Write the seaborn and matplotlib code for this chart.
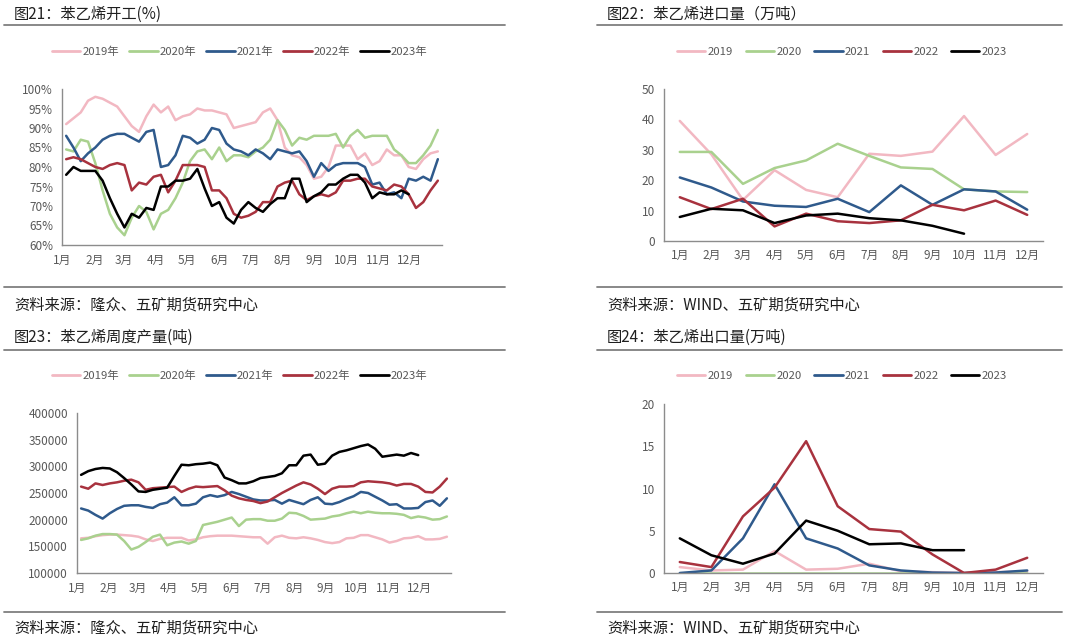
import numpy as np
import pandas as pd
import matplotlib
matplotlib.use("Agg")
import matplotlib.pyplot as plt
import seaborn as sns
from matplotlib.lines import Line2D
from matplotlib.ticker import FixedLocator, FuncFormatter

# ---------------- data ----------------
years = ["2019", "2020", "2021", "2022", "2023"]
colors = ["#F2B8C2", "#A9D18E", "#2F5A8C", "#A8323E", "#000000"]
months = ["1月", "2月", "3月", "4月", "5月", "6月", "7月", "8月", "9月", "10月", "11月", "12月"]
month_start_day = [0, 31, 59, 90, 120, 151, 181, 212, 243, 273, 304, 334]

# Fig 21: styrene operating rate (%), weekly
op_2019 = [91, 92.5, 94, 97, 98, 97.5, 96.5, 95.5, 93, 90.5, 89, 93, 96, 94, 95.5, 92, 93, 93.5, 95, 94.5,
           94.5, 94, 93.5, 90, 90.5, 91, 91.5, 94, 95, 92, 85, 83, 82.5, 80.5, 77, 77.5, 80, 85.5, 85.5, 85.5,
           82, 83.5, 80.5, 81.5, 84.5, 83, 83, 80, 79.5, 82, 83.5, 84]
op_2020 = [84.5, 84, 87, 86.5, 81, 74, 68, 64.5, 62.5, 67, 70, 68.5, 64, 68, 69, 72, 76, 81.5, 84, 84.5,
           82, 85, 81.5, 83, 83, 82.5, 84, 85, 87, 92, 89.5, 85.5, 87.5, 87, 88, 88, 88, 88.5, 85, 88,
           89.5, 87.5, 88, 88, 88, 84.5, 83, 81, 81, 83, 85.5, 89.5]
op_2021 = [88, 85, 81.5, 83.5, 85, 87, 88, 88.5, 88.5, 87.5, 86.5, 89, 89.5, 80, 80.5, 83, 88, 87.5, 86, 87,
           90, 89.5, 86, 84.5, 84, 83, 84.5, 83.5, 82, 84.5, 84, 83.5, 84, 81.5, 77.5, 81, 79, 80.5, 81, 81,
           81, 80, 75.5, 76, 73, 73.5, 72, 77, 76.5, 77.5, 76.5, 82]
op_2022 = [82, 82.5, 82, 81, 80, 79.5, 80.5, 81, 80.5, 74, 76, 75.5, 77.5, 78, 73.5, 76.5, 80.5, 80.5, 80.5, 80,
           74, 74, 72, 68, 67, 67.5, 68.5, 71, 71, 75, 76, 76.5, 73, 71.5, 72.5, 73, 72.5, 73.5, 76.5, 76.5,
           77, 77, 75, 74.5, 74, 75.5, 75, 73, 69.5, 71, 74, 76.5]
op_2023 = [78, 80, 79, 79, 79, 76.5, 72, 68, 64.5, 68, 67, 69.5, 69, 75, 75, 76.5, 76.5, 77, 79.5, 74.5,
           70, 71, 67, 65.5, 69, 71, 69.5, 68.5, 70.5, 72, 72, 77, 77, 71, 72.5, 73.5, 75.5, 75.5, 77, 78,
           78, 76, 72, 73.5, 73, 73, 74, 73]

# Fig 23: styrene weekly output (t)
out_2019 = [165000, 166000, 169000, 171000, 172000, 172000, 171000, 170000, 168000, 163000, 160000, 164000,
            166000, 166000, 166000, 161000, 163000, 167000, 169000, 170000, 170000, 170000, 169000, 168000,
            167000, 167000, 155000, 167000, 170000, 166000, 165000, 167000, 165000, 162000, 158000, 156000,
            158000, 165000, 166000, 171000, 171000, 167000, 163000, 157000, 160000, 165000, 166000, 169000,
            163000, 163000, 164000, 168000]
out_2020 = [162000, 165000, 170000, 173000, 173000, 172000, 160000, 144000, 149000, 158000, 168000, 172000,
            152000, 157000, 159000, 155000, 160000, 190000, 193000, 196000, 200000, 204000, 188000, 200000,
            201000, 201000, 198000, 198000, 202000, 213000, 212000, 207000, 200000, 201000, 202000, 206000,
            208000, 212000, 215000, 212000, 215000, 213000, 212000, 212000, 211000, 209000, 203000, 206000,
            204000, 200000, 201000, 206000]
out_2021 = [221000, 217000, 209000, 202000, 212000, 220000, 226000, 227000, 227000, 224000, 222000, 229000,
            232000, 242000, 227000, 227000, 230000, 242000, 246000, 243000, 246000, 252000, 248000, 243000,
            238000, 236000, 236000, 237000, 230000, 237000, 233000, 229000, 237000, 242000, 230000, 229000,
            233000, 239000, 244000, 252000, 250000, 243000, 236000, 228000, 229000, 221000, 221000, 222000,
            233000, 236000, 226000, 240000]
out_2022 = [262000, 258000, 268000, 265000, 268000, 270000, 273000, 275000, 270000, 256000, 259000, 260000,
            261000, 262000, 252000, 258000, 262000, 261000, 262000, 263000, 255000, 245000, 240000, 237000,
            235000, 231000, 234000, 242000, 250000, 257000, 264000, 270000, 266000, 258000, 248000, 258000,
            262000, 262000, 263000, 270000, 272000, 271000, 270000, 268000, 264000, 267000, 267000, 262000,
            252000, 251000, 262000, 277000]
out_2023 = [284000, 291000, 295000, 297000, 296000, 289000, 278000, 266000, 253000, 252000, 256000, 258000,
            260000, 282000, 303000, 302000, 304000, 305000, 307000, 302000, 279000, 274000, 268000, 268000,
            272000, 278000, 280000, 282000, 287000, 302000, 302000, 320000, 322000, 303000, 305000, 320000,
            327000, 330000, 334000, 338000, 341000, 333000, 318000, 320000, 322000, 320000, 325000, 321000]

# Fig 22: styrene imports (10k t), monthly
imp_2019 = [39.5, 28.5, 13.5, 23.3, 16.8, 14.4, 28.7, 28.0, 29.4, 41.1, 28.3, 35.2]
imp_2020 = [29.3, 29.3, 18.8, 24.0, 26.5, 32.0, 28.0, 24.2, 23.7, 17.0, 16.3, 16.1]
imp_2021 = [20.9, 17.6, 13.0, 11.6, 11.2, 13.9, 9.5, 18.3, 11.9, 17.0, 16.3, 10.3]
imp_2022 = [14.4, 10.5, 13.9, 4.8, 9.0, 6.5, 5.9, 6.8, 11.9, 10.1, 13.3, 8.6]
imp_2023 = [7.9, 10.6, 10.1, 5.9, 8.4, 9.0, 7.5, 6.8, 5.0, 2.4]

# Fig 24: styrene exports (10k t), monthly
exp_2019 = [0.7, 0.3, 0.4, 2.6, 0.4, 0.5, 1.1, 0.2, 0.1, 0.0, 0.1, 0.2]
exp_2020 = [0.0, 0.0, 0.0, 0.0, 0.0, 0.0, 0.0, 0.0, 0.0, 0.0, 0.0, 0.0]
exp_2021 = [0.0, 0.3, 4.1, 10.5, 4.1, 2.9, 0.9, 0.3, 0.05, 0.0, 0.05, 0.3]
exp_2022 = [1.3, 0.7, 6.7, 10.1, 15.6, 7.9, 5.2, 4.9, 2.2, 0.0, 0.4, 1.8]
exp_2023 = [4.1, 2.1, 1.1, 2.3, 6.2, 5.0, 3.4, 3.5, 2.7, 2.7]


def weekly_frame(series, suffix):
    rows = []
    for yr, vals in zip(years, series):
        for i, v in enumerate(vals):
            rows.append({"day": 4 + 7 * i, "value": v, "year": yr + suffix})
    return pd.DataFrame(rows)


def monthly_frame(series):
    rows = []
    for yr, vals in zip(years, series):
        for i, v in enumerate(vals):
            rows.append({"month": i, "value": v, "year": yr})
    return pd.DataFrame(rows)


# ---------------- style ----------------
sns.set_theme(style="white")
plt.rcParams["font.family"] = ["Noto Sans CJK SC", "DejaVu Sans"]
AX_GRAY = "#8C8C8C"
TXT_GRAY = "#595959"

fig = plt.figure(figsize=(10.8, 6.44), dpi=100)
W, H = 1080, 644


def fax(l, t, r, b):
    return fig.add_axes([l / W, 1 - b / H, (r - l) / W, (b - t) / H])


def hline(y, x0, x1):
    fig.add_artist(Line2D([x0 / W, x1 / W], [1 - y / H, 1 - y / H], color="#7F7F7F", lw=1.3))


def style_axes(ax):
    for s in ["top", "right"]:
        ax.spines[s].set_visible(False)
    for s in ["left", "bottom"]:
        ax.spines[s].set_color(AX_GRAY)
        ax.spines[s].set_linewidth(1.0)
    ax.tick_params(axis="both", colors=AX_GRAY, labelcolor=TXT_GRAY, labelsize=8.5,
                   length=3, width=0.8, direction="out")
    ax.set_xlabel("")
    ax.set_ylabel("")
    ax.grid(False)


def add_legend(ax, labels, x, y, colspace):
    handles = [Line2D([0], [0], color=c, lw=2) for c in colors]
    fig.legend(handles, labels, loc="center left", bbox_to_anchor=(x / W, 1 - y / H), ncol=5,
               frameon=False, fontsize=8.2, handlelength=2.5, handletextpad=0.2, columnspacing=colspace,
               labelcolor=TXT_GRAY, borderaxespad=0, borderpad=0)


def weekly_axis(ax):
    ax.set_xlim(0, 365)
    ax.xaxis.set_major_locator(FixedLocator(month_start_day))
    ax.set_xticklabels(months)
    ax.xaxis.set_minor_locator(FixedLocator([365]))
    ax.tick_params(axis="x", which="minor", length=3, color=AX_GRAY, width=0.8)


def monthly_axis(ax):
    ax.set_xlim(-0.5, 11.5)
    ax.set_xticks(range(12))
    ax.set_xticklabels(months)
    ax.tick_params(axis="x", which="major", length=0, pad=6)
    ax.xaxis.set_minor_locator(FixedLocator([k - 0.5 for k in range(13)]))
    ax.tick_params(axis="x", which="minor", length=3, color=AX_GRAY, width=0.8)


lab_cn = [y + "年" for y in years]

# ---- Fig 21 ----
ax1 = fax(62, 89, 442, 245)
df1 = weekly_frame([op_2019, op_2020, op_2021, op_2022, op_2023], "年")
sns.lineplot(data=df1, x="day", y="value", hue="year", palette=dict(zip(lab_cn, colors)),
             hue_order=lab_cn, lw=1.8, ax=ax1, legend=False)
ax1.set_ylim(60, 100)
ax1.set_yticks(range(60, 101, 5))
ax1.yaxis.set_major_formatter(FuncFormatter(lambda v, p: f"{v:.0f}%"))
style_axes(ax1)
weekly_axis(ax1)
add_legend(ax1, lab_cn, 52, 52, 0.85)

# ---- Fig 22 ----
ax2 = fax(664, 89, 1043, 241)
df2 = monthly_frame([imp_2019, imp_2020, imp_2021, imp_2022, imp_2023])
sns.lineplot(data=df2, x="month", y="value", hue="year", palette=dict(zip(years, colors)),
             hue_order=years, lw=1.8, ax=ax2, legend=False)
ax2.set_ylim(0, 50)
ax2.set_yticks(range(0, 51, 10))
style_axes(ax2)
monthly_axis(ax2)
add_legend(ax2, years, 677, 52, 1.1)

# ---- Fig 23 ----
ax3 = fax(77, 413, 451, 573)
df3 = weekly_frame([out_2019, out_2020, out_2021, out_2022, out_2023], "年")
sns.lineplot(data=df3, x="day", y="value", hue="year", palette=dict(zip(lab_cn, colors)),
             hue_order=lab_cn, lw=1.8, ax=ax3, legend=False)
ax3.set_ylim(100000, 400000)
ax3.set_yticks(range(100000, 400001, 50000))
ax3.yaxis.set_major_formatter(FuncFormatter(lambda v, p: f"{v:.0f}"))
style_axes(ax3)
weekly_axis(ax3)
add_legend(ax3, lab_cn, 52, 376, 0.85)

# ---- Fig 24 ----
ax4 = fax(664, 404, 1043, 573)
df4 = monthly_frame([exp_2019, exp_2020, exp_2021, exp_2022, exp_2023])
sns.lineplot(data=df4, x="month", y="value", hue="year", palette=dict(zip(years, colors)),
             hue_order=years, lw=1.8, ax=ax4, legend=False)
ax4.set_ylim(0, 20)
ax4.set_yticks(range(0, 21, 5))
style_axes(ax4)
monthly_axis(ax4)
add_legend(ax4, years, 677, 376, 1.1)

# ---- titles, rules and sources ----
TITLE_C = "#1F1F1F"
FS = 11
fig.text(14 / W, 1 - 14 / H, "图21：苯乙烯开工(%)", fontsize=FS, color=TITLE_C, va="center", ha="left")
fig.text(607 / W, 1 - 14 / H, "图22：苯乙烯进口量（万吨）", fontsize=FS, color=TITLE_C, va="center", ha="left")
fig.text(14 / W, 1 - 337 / H, "图23：苯乙烯周度产量(吨)", fontsize=FS, color=TITLE_C, va="center", ha="left")
fig.text(607 / W, 1 - 337 / H, "图24：苯乙烯出口量(万吨)", fontsize=FS, color=TITLE_C, va="center", ha="left")
hline(25, 4, 505)
hline(25, 597, 1062)
hline(350, 4, 505)
hline(350, 597, 1062)
hline(287, 4, 505)
hline(287, 597, 1062)
hline(612, 4, 505)
hline(612, 597, 1062)
fig.text(14 / W, 1 - 305 / H, "资料来源：隆众、五矿期货研究中心", fontsize=FS, color=TITLE_C, va="center", ha="left")
fig.text(607 / W, 1 - 305 / H, "资料来源：WIND、五矿期货研究中心", fontsize=FS, color=TITLE_C, va="center", ha="left")
fig.text(14 / W, 1 - 628 / H, "资料来源：隆众、五矿期货研究中心", fontsize=FS, color=TITLE_C, va="center", ha="left")
fig.text(607 / W, 1 - 628 / H, "资料来源：WIND、五矿期货研究中心", fontsize=FS, color=TITLE_C, va="center", ha="left")

fig.savefig("out.png", dpi=100)
